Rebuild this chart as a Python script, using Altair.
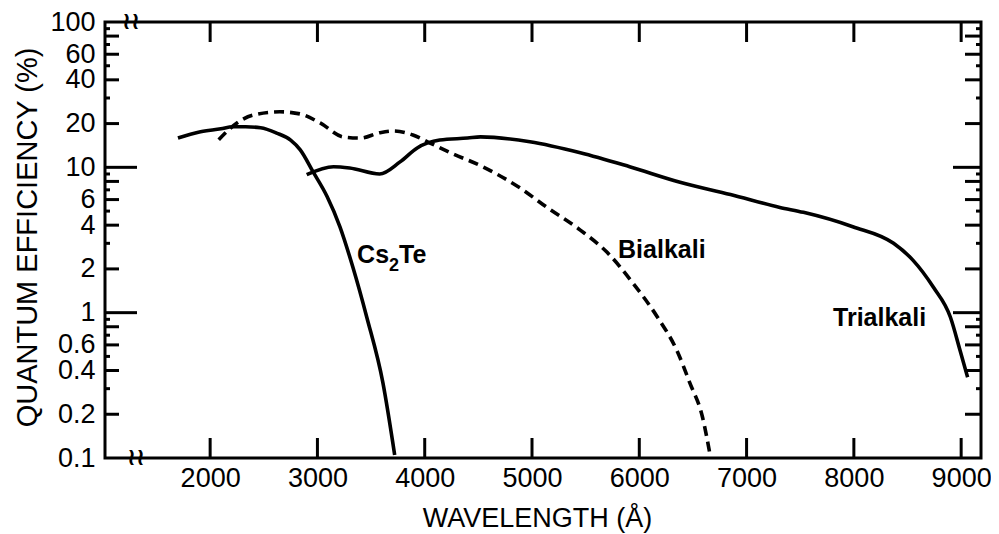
import altair as alt
import pandas as pd

# ---- data ----
cs2te_wl = [1700, 1900, 2100, 2210, 2330, 2470, 2620, 2750, 2840, 2960, 3090, 3210, 3330, 3460, 3610, 3720]
cs2te_qe = [15.9, 17.5, 18.4, 19.0, 19.0, 18.7, 17.2, 15.4, 13.2, 9.3, 6.3, 3.9, 2.06, 0.93, 0.33, 0.105]

bialkali_wl = [2080, 2250, 2400, 2650, 2840, 3025, 3240, 3400, 3580, 3710, 3890, 4050, 4240, 4540,
               4890, 5140, 5450, 5700, 5940, 6170, 6350, 6470, 6590, 6660]
bialkali_qe = [15.5, 20.2, 22.9, 24.1, 23.3, 20.2, 16.2, 15.9, 17.3, 17.8, 16.7, 14.7, 12.6, 10.1,
               7.2, 5.3, 3.7, 2.6, 1.6, 0.93, 0.55, 0.33, 0.19, 0.105]

trialkali_wl = [2900, 3150, 3300, 3580, 3770, 3930, 4140, 4400, 4520, 4980, 5450, 5910, 6380, 6850,
                7310, 7530, 7990, 8370, 8550, 8740, 8900, 8990, 9060]
trialkali_qe = [8.9, 10.1, 9.9, 9.0, 10.9, 13.6, 15.4, 15.9, 16.2, 15.0, 12.6, 10.1, 7.9, 6.5,
                5.3, 4.9, 3.9, 3.0, 2.3, 1.5, 0.93, 0.55, 0.36]

curve_labels = ["Cs", "Bialkali", "Trialkali"]
curve_label_wl = [3370, 5802, 7806]
curve_label_qe = [2.2, 2.38, 0.81]

x_tick_values = [2000, 3000, 4000, 5000, 6000, 7000, 8000, 9000]
y_label_values = [0.1, 0.2, 0.4, 0.6, 1, 2, 4, 6, 10, 20, 40, 60, 100]
y_tick_long = [1, 10]
y_tick_medium = [0.2, 0.4, 0.6, 0.8, 2, 4, 6, 8, 20, 40, 60, 80]
y_tick_short = [0.3, 0.5, 0.7, 0.9, 3, 5, 7, 9, 30, 50, 70, 90]

x_domain = [1020, 9185]
y_domain = [0.1, 100]
break_top_wl = [1262]
break_bottom_wl = [1310]

W, H = 876, 436
FONT = "Liberation Sans"

xs = alt.Scale(domain=x_domain, nice=False, zero=False)
ys = alt.Scale(type="log", domain=y_domain, nice=False)

x_axis = alt.Axis(values=x_tick_values, format="d", title="WAVELENGTH (Å)",
                  domain=False, ticks=False, grid=False, labelPadding=7,
                  labelFont=FONT, labelFontSize=27, labelColor="black",
                  labelFlush=False, labelOverlap=False,
                  titleFont=FONT, titleFontSize=27, titleFontWeight="normal", titleColor="black",
                  titleX=432, titleY=68, titleAlign="center", titleBaseline="alphabetic")
y_axis = alt.Axis(values=y_label_values, format="~g", title="QUANTUM EFFICIENCY (%)",
                  domain=False, ticks=False, grid=False, labelPadding=10,
                  labelFont=FONT, labelFontSize=27, labelColor="black",
                  labelFlush=False, labelOverlap=False,
                  titleFont=FONT, titleFontSize=29, titleFontWeight="normal", titleColor="black",
                  titleAngle=270, titleX=-69, titleY=215, titleAlign="center",
                  titleBaseline="alphabetic")


def X(field="wl"):
    return alt.X(f"{field}:Q", scale=xs, axis=x_axis)


def Y(field="qe"):
    return alt.Y(f"{field}:Q", scale=ys, axis=y_axis)


def curve(wl, qe, dash=None):
    df = pd.DataFrame({"wl": wl, "qe": qe})
    kw = dict(color="black", strokeWidth=3.6, interpolate="monotone")
    if dash:
        kw["strokeDash"] = dash
    return alt.Chart(df).mark_line(**kw).encode(x=X(), y=Y())


layers = []
layers.append(curve(cs2te_wl, cs2te_qe))
layers.append(curve(bialkali_wl, bialkali_qe, dash=[10, 6]))
layers.append(curve(trialkali_wl, trialkali_qe))

# y ticks, left and right (inward)
for vals, ln_left, ln_right in [(y_tick_long, 32, 28), (y_tick_medium, 14, 16), (y_tick_short, 5, 5)]:
    d = pd.DataFrame({"qe": vals})
    layers.append(alt.Chart(d).mark_rule(color="black", strokeWidth=3).encode(
        y=Y(), x=alt.value(0), x2=alt.value(ln_left)))
    layers.append(alt.Chart(d).mark_rule(color="black", strokeWidth=3).encode(
        y=Y(), x=alt.value(W), x2=alt.value(W - ln_right)))

# x ticks, bottom and top (inward)
dx = pd.DataFrame({"wl": x_tick_values})
layers.append(alt.Chart(dx).mark_rule(color="black", strokeWidth=3).encode(
    x=X(), y=alt.value(H), y2=alt.value(H - 20)))
layers.append(alt.Chart(dx).mark_rule(color="black", strokeWidth=3).encode(
    x=X(), y=alt.value(0), y2=alt.value(20)))

# axis break marks
for wl, ypix in [(break_top_wl, 0), (break_bottom_wl, H)]:
    d = pd.DataFrame({"wl": wl})
    layers.append(alt.Chart(d).mark_text(text="≀≀", font="DejaVu Sans", fontSize=24,
                                         baseline="middle", align="center", color="black",
                                         fontWeight="bold").encode(
        x=X(), y=alt.value(ypix)))

# curve labels
lab = pd.DataFrame({"wl": curve_label_wl, "qe": curve_label_qe, "t": curve_labels})
layers.append(alt.Chart(lab).mark_text(font=FONT, fontSize=25, fontWeight="bold", align="left",
                                       baseline="alphabetic", color="black").encode(
    x=X(), y=Y(), text="t:N"))
cs = lab.iloc[[0]]
layers.append(alt.Chart(cs).mark_text(text="2", font=FONT, fontSize=18, fontWeight="bold",
                                      align="left", baseline="alphabetic", color="black",
                                      dx=32, dy=8).encode(x=X(), y=Y()))
layers.append(alt.Chart(cs).mark_text(text="Te", font=FONT, fontSize=25, fontWeight="bold",
                                      align="left", baseline="alphabetic", color="black",
                                      dx=42).encode(x=X(), y=Y()))

chart = alt.layer(*layers).properties(
    width=W, height=H,
    autosize=alt.AutoSizeParams(type="none"),
    padding={"left": 97, "top": 14, "right": 10, "bottom": 76},
    background="white",
).configure_view(stroke="black", strokeWidth=3)

chart.save("out.html", embed_options={"renderer": "svg", "actions": False})
